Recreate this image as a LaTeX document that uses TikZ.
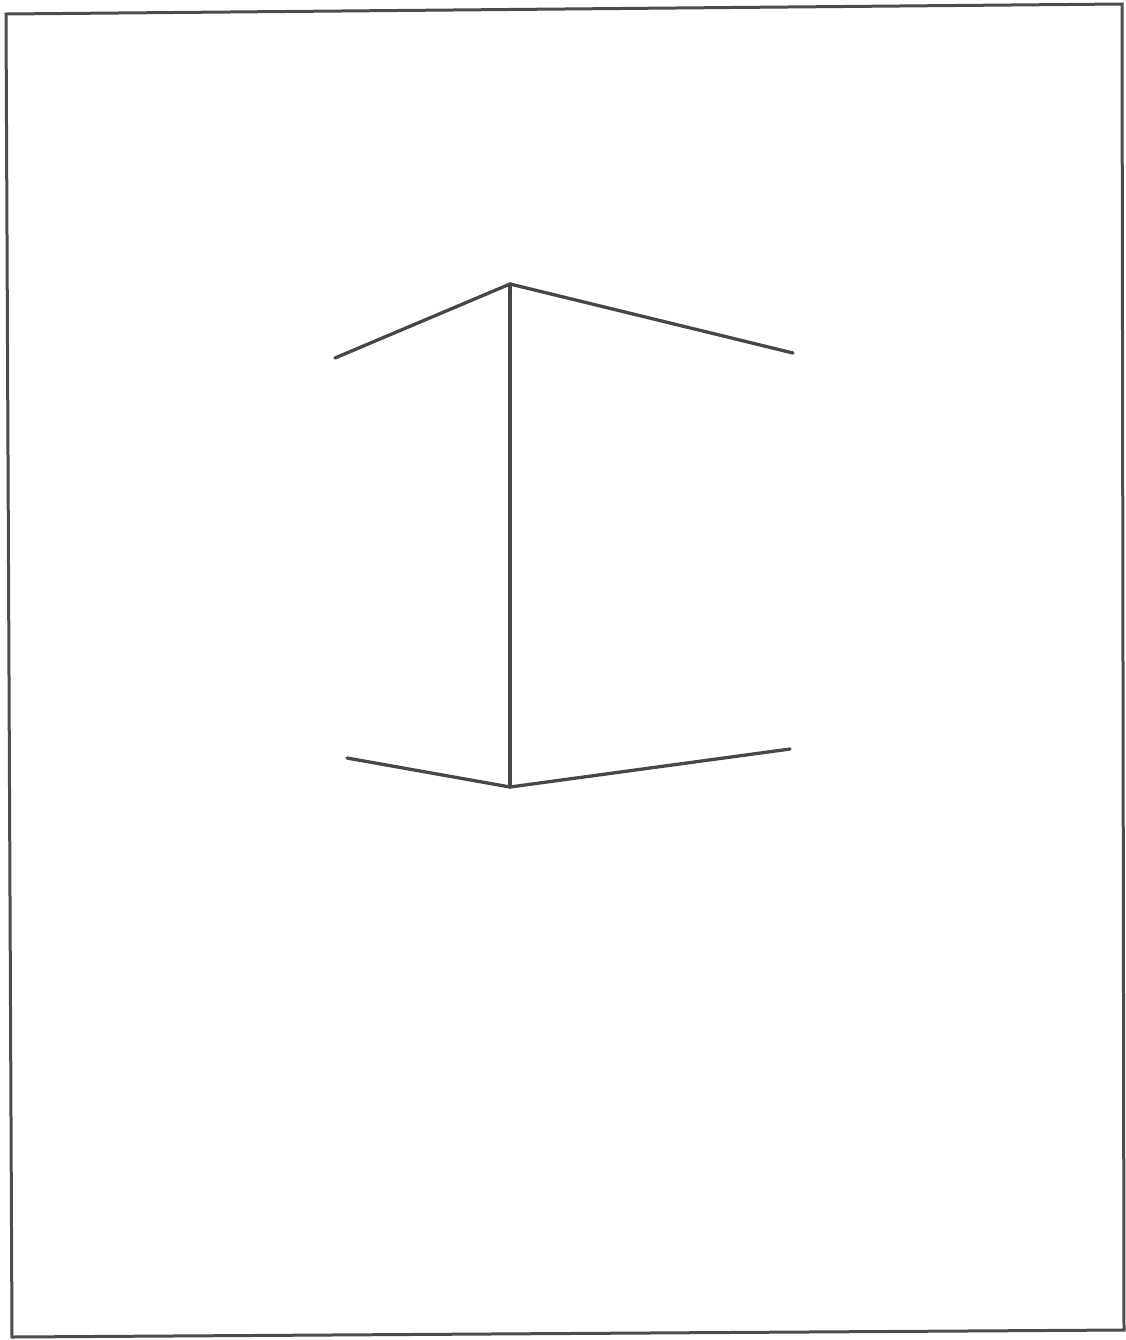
\documentclass[tikz,border=0pt]{standalone}
\begin{document}
\begin{tikzpicture}[x=0.02cm,y=-0.02cm,
  stroke/.style={draw=black!72, line width=0.066cm, line cap=round, line join=round},
  frame/.style={draw=black!70, line width=0.06cm}]
\useasboundingbox (0,0) rectangle (1126,1340);
% frame
\coordinate (f1) at (6,14);
\coordinate (f2) at (1122,4);
\coordinate (f3) at (1124,1330);
\coordinate (f4) at (12,1337);
\draw[frame] (f1) -- (f2) -- (f3) -- (f4) -- cycle;
% points
\coordinate (top) at (510,284);
\coordinate (tl) at (335,358);
\coordinate (tr) at (793,353);
\coordinate (bot) at (510,787);
\coordinate (bl) at (347,758);
\coordinate (br) at (790,749);
\draw[stroke] (tl) -- (top) -- (tr);
\draw[stroke] (top) -- (bot);
\draw[stroke] (bl) -- (bot) -- (br);
\end{tikzpicture}
\end{document}
